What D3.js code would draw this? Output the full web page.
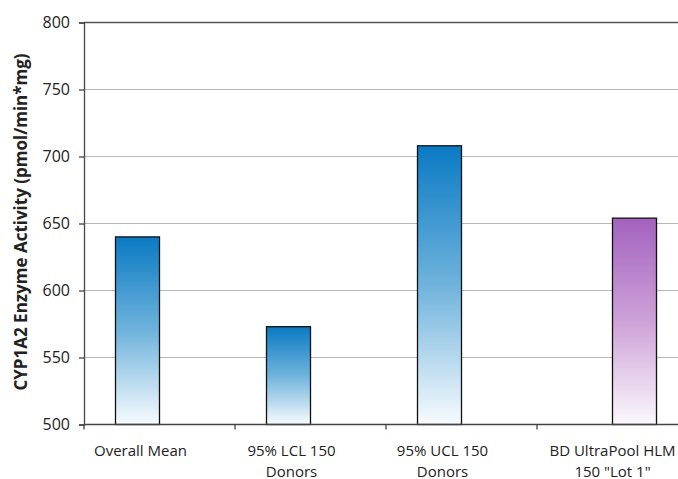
<!DOCTYPE html>
<html>
<head>
<meta charset="utf-8">
<script src="https://cdn.jsdelivr.net/npm/d3@7"></script>
<style>
  html, body { margin: 0; padding: 0; background: #fff; }
  svg { display: block; overflow: hidden; }
  text { font-family: "Open Sans", sans-serif; fill: #222; }
</style>
</head>
<body>
<svg id="chart" width="678" height="479"></svg>
<script>
// ---- data ----
const categories = [
  ["Overall Mean"],
  ["95% LCL 150", "Donors"],
  ["95% UCL 150", "Donors"],
  ["BD UltraPool HLM", "150 \"Lot 1\""]
];
const seriesNames = ["Donors", "BD UltraPool"];
const donorValues = [640, 573, 708, null];
const poolValues = [null, null, null, 654];
const yTicks = [500, 550, 600, 650, 700, 750, 800];
const yTitle = "CYP1A2 Enzyme Activity (pmol/min*mg)";

// ---- layout ----
const W = 678, H = 479;
const mLeft = 84, mTop = 22.5, mBottom = 424.5;
const svg = d3.select("#chart");

const x = d3.scaleBand().domain(d3.range(categories.length)).range([mLeft, mLeft + 604]).padding(0);
const gw = 88;
const xs = d3.scaleBand().domain(seriesNames).range([0, gw]).padding(0);
const y = d3.scaleLinear().domain([500, 800]).range([mBottom, mTop]);

// gradients
const defs = svg.append("defs");
const grads = [
  {id: "g0", top: "#0a7ac3", mid: "#6fb3dc", bot: "#f7fbfe"},
  {id: "g1", top: "#a462bf", mid: "#cda2d8", bot: "#fbf8fc"}
];
grads.forEach(g => {
  const lg = defs.append("linearGradient").attr("id", g.id)
    .attr("x1", 0).attr("y1", 0).attr("x2", 0).attr("y2", 1);
  lg.append("stop").attr("offset", "0%").attr("stop-color", g.top);
  lg.append("stop").attr("offset", "50%").attr("stop-color", g.mid);
  lg.append("stop").attr("offset", "100%").attr("stop-color", g.bot);
});

// gridlines
svg.append("g").selectAll("line").data(yTicks.filter(t => t > 500 && t < 800)).join("line")
  .attr("x1", mLeft).attr("x2", W)
  .attr("y1", d => y(d)).attr("y2", d => y(d))
  .attr("stroke", "#b8b8b8").attr("stroke-width", 1);

// top border
svg.append("line").attr("x1", mLeft).attr("x2", W).attr("y1", y(800)).attr("y2", y(800))
  .attr("stroke", "#555").attr("stroke-width", 1.3);

// bars
const series = [donorValues, poolValues];
series.forEach((vals, si) => {
  svg.append("g").selectAll("rect")
    .data(vals.map((v, i) => ({v, i})).filter(d => d.v != null))
    .join("rect")
    .attr("x", d => x(d.i) + (x.bandwidth() - gw) / 2 + xs(seriesNames[si]))
    .attr("width", xs.bandwidth())
    .attr("y", d => y(d.v))
    .attr("height", d => y(500) - y(d.v))
    .attr("fill", `url(#g${si})`)
    .attr("stroke", "#111").attr("stroke-width", 1.3);
});

// y axis
const yAxis = svg.append("g").attr("transform", `translate(${mLeft},0)`)
  .call(d3.axisLeft(y).tickValues(yTicks).tickSize(5).tickPadding(9).tickFormat(d3.format("d")));
yAxis.select(".domain").attr("stroke", "#444").attr("stroke-width", 1.3);
yAxis.selectAll(".tick line").attr("stroke", "#444").attr("stroke-width", 1.3);
yAxis.selectAll("text").attr("font-size", 16).attr("font-family", "Open Sans, sans-serif").attr("fill", "#222");

// x axis
const xAxisG = svg.append("g").attr("transform", `translate(0,${mBottom})`);
xAxisG.append("line").attr("x1", mLeft).attr("x2", W).attr("y1", 0).attr("y2", 0)
  .attr("stroke", "#444").attr("stroke-width", 1.3);
xAxisG.selectAll(".xt").data(d3.range(categories.length + 1)).join("line")
  .attr("class", "xt")
  .attr("x1", d => d < categories.length ? x(d) : x(d - 1) + x.bandwidth())
  .attr("x2", d => d < categories.length ? x(d) : x(d - 1) + x.bandwidth())
  .attr("y1", 0).attr("y2", 5)
  .attr("stroke", "#444").attr("stroke-width", 1.3);

// category labels: centred on the group of drawn bars
const labelX = i => {
  const base = x(i) + (x.bandwidth() - gw) / 2;
  return donorValues[i] != null ? base + xs(seriesNames[0]) + xs.bandwidth() / 2 + 3
                                : x(i) + x.bandwidth() / 2;
};
const lab = xAxisG.selectAll(".xl").data(categories).join("text")
  .attr("class", "xl")
  .attr("text-anchor", "middle")
  .attr("font-size", 15)
  .attr("transform", (d, i) => `translate(${labelX(i)},0)`);
lab.selectAll("tspan").data(d => d).join("tspan")
  .attr("x", 0).attr("y", (d, j) => 31 + j * 21)
  .text(d => d);

// y title
svg.append("text")
  .attr("transform", `translate(27,222) rotate(-90)`)
  .attr("text-anchor", "middle")
  .attr("font-size", 17).attr("font-weight", "bold")
  .text(yTitle);
</script>
</body>
</html>
